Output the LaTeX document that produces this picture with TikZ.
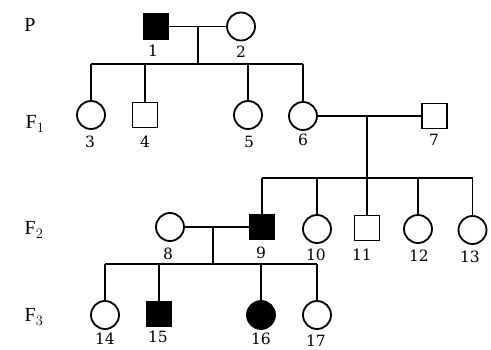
\documentclass[tikz,border=0pt]{standalone}
\usepackage{fontspec}
\setmainfont{Liberation Serif}
\newfontfamily\numfont{DejaVu Serif}
\begin{document}
\begin{tikzpicture}[x=1pt,y=-1pt,
  ln/.style={line width=1.9pt},
  male/.style={draw,line width=1.8pt,minimum size=25pt,inner sep=0pt,rectangle},
  female/.style={draw,line width=1.8pt,minimum size=28pt,inner sep=0pt,circle},
  aff/.style={fill=black},
  num/.style={font=\numfont\fontsize{15.5}{15.5}\selectfont,inner sep=0pt},
  gen/.style={font=\fontsize{20}{20}\selectfont,inner sep=0pt}]
\useasboundingbox (0,0) rectangle (491,350);
% generation labels
\node[gen] (gP) at (30,25) {P};
\node[gen] (gF1) at (35,124) {F$_1$};
\node[gen] (gF2) at (34,230) {F$_2$};
\node[gen] (gF3) at (34,317) {F$_3$};
% individuals
\node[male,aff] (n1) at (156,26.5) {};
\node[female] (n2) at (241,26.5) {};
\node[female] (n3) at (91,115) {};
\node[male] (n4) at (145,115) {};
\node[female] (n5) at (248,115) {};
\node[female] (n6) at (303,116) {};
\node[male] (n7) at (434.5,116) {};
\node[female] (n8) at (170,227) {};
\node[male,aff] (n9) at (262,227) {};
\node[female] (n10) at (317,229) {};
\node[male] (n11) at (367,228) {};
\node[female] (n12) at (418,229) {};
\node[female] (n13) at (472.5,230) {};
\node[female] (n14) at (105,315) {};
\node[male,aff] (n15) at (159,314) {};
\node[female,aff] (n16) at (261,315) {};
\node[female] (n17) at (317,315) {};
% number labels
\node[num] (l1) at (153,51) {1};
\node[num] (l2) at (241,52) {2};
\node[num] (l3) at (90,142) {3};
\node[num] (l4) at (145,142) {4};
\node[num] (l5) at (249,142) {5};
\node[num] (l6) at (303,140) {6};
\node[num] (l7) at (434,140) {7};
\node[num] (l8) at (168,254) {8};
\node[num] (l9) at (261,253) {9};
\node[num] (l10) at (316,255) {10};
\node[num] (l11) at (362,255) {11};
\node[num] (l12) at (419,256) {12};
\node[num] (l13) at (470,257) {13};
\node[num] (l14) at (105,339) {14};
\node[num] (l15) at (158,337) {15};
\node[num] (l16) at (261,339) {16};
\node[num] (l17) at (316,341) {17};
% family 1
\coordinate (m1) at (198,26.5);
\coordinate (s1) at (198,64);
\draw[ln] (n1.east) -- (n2.west);
\draw[ln] (m1) -- (s1);
\draw[ln] (n3.north |- s1) -- (n6.north |- s1);
\foreach \c in {n3,n4,n5,n6} \draw[ln] (\c.north |- s1) -- (\c.north);
% family 2
\coordinate (m2) at (367,116);
\coordinate (s2) at (367,178);
\draw[ln] (n6.east) -- (n7.west);
\draw[ln] (m2) -- (s2);
\draw[ln] (n9.north |- s2) -- (n13.north |- s2);
\foreach \c in {n9,n10,n11,n12,n13} \draw[ln] (\c.north |- s2) -- (\c.north);
% family 3
\coordinate (m3) at (213,227);
\coordinate (s3) at (213,264);
\draw[ln] (n8.east) -- (n9.west);
\draw[ln] (m3) -- (s3);
\draw[ln] (n14.north |- s3) -- (n17.north |- s3);
\foreach \c in {n14,n15,n16,n17} \draw[ln] (\c.north |- s3) -- (\c.north);
\end{tikzpicture}
\end{document}
